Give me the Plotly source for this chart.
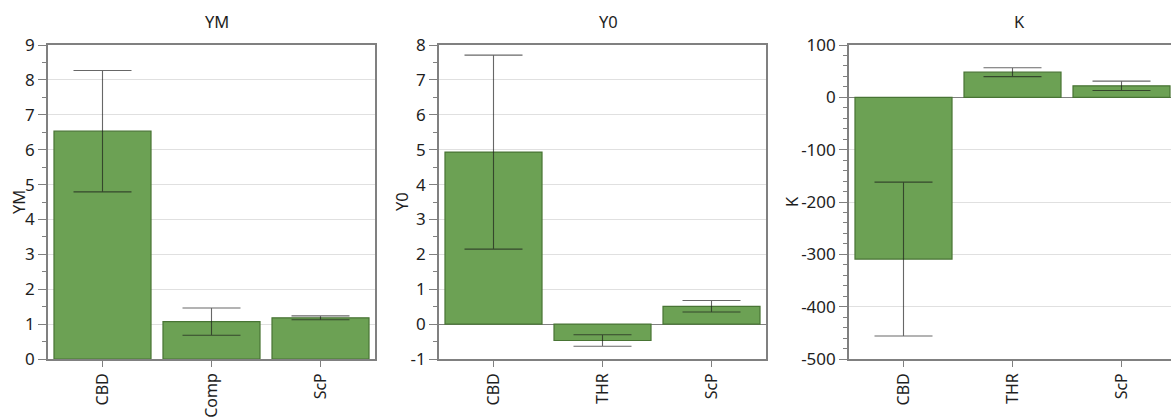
import plotly.graph_objects as go

# ---------------- data ----------------
ym_cats = ["CBD", "Comp", "ScP"]
ym_vals = [6.53, 1.07, 1.18]
ym_err = [1.74, 0.39, 0.055]
ym_ticks = [0, 1, 2, 3, 4, 5, 6, 7, 8, 9]
ym_ticklabels = ["0", "1", "2", "3", "4", "5", "6", "7", "8", "9"]

y0_cats = ["CBD", "THR", "ScP"]
y0_vals = [4.93, -0.47, 0.51]
y0_err = [2.78, 0.165, 0.165]
y0_ticks = [-1, 0, 1, 2, 3, 4, 5, 6, 7, 8]
y0_ticklabels = ["-1", "0", "1", "2", "3", "4", "5", "6", "7", "8"]

k_cats = ["CBD", "THR", "ScP"]
k_vals = [-309, 48, 22]
k_err = [147, 8.5, 9]
k_ticks = [-500, -400, -300, -200, -100, 0, 100]
k_ticklabels = ["-500", "-400", "-300", "-200", "-100", "0", "100"]

FONT = "Noto Sans"
BAR_FILL = "rgb(108,161,84)"
BAR_LINE = "rgb(72,116,52)"
ERR_COL = "rgba(25,25,25,0.66)"
AXIS_COL = "rgb(128,128,128)"
GRID_COL = "rgb(224,224,224)"
TXT = "rgb(30,30,30)"

W, H = 1171, 418
top_px, bot_px = 45, 359
ydom = [(H - bot_px) / H, (H - top_px) / H]

panels = [
    dict(cats=ym_cats, vals=ym_vals, err=ym_err, title="YM", xdom=[48 / W, 375 / W],
         yr=[0, 9], tv=ym_ticks, tt=ym_ticklabels, mdt=0.5, xr=[-0.5, 2.5],
         ytitle_x=18, title_x=217, mirror_y=True),
    dict(cats=y0_cats, vals=y0_vals, err=y0_err, title="Y0", xdom=[439 / W, 766 / W],
         yr=[-1, 8], tv=y0_ticks, tt=y0_ticklabels, mdt=0.5, xr=[-0.5, 2.5],
         ytitle_x=401, title_x=608, mirror_y=True),
    dict(cats=k_cats, vals=k_vals, err=k_err, title="K", xdom=[849 / W, 1.0],
         yr=[-500, 100], tv=k_ticks, tt=k_ticklabels, mdt=20, xr=[-0.5, 2.5 - 5 / 109],
         ytitle_x=791, title_x=1019, mirror_y=False),
]

fig = go.Figure()
annotations = []
for i, p in enumerate(panels, start=1):
    xa = "x" if i == 1 else f"x{i}"
    ya = "y" if i == 1 else f"y{i}"
    fig.add_trace(go.Bar(
        x=p["cats"], y=p["vals"], xaxis=xa, yaxis=ya,
        marker=dict(color=BAR_FILL, line=dict(color=BAR_LINE, width=1.2)),
        error_y=dict(type="data", array=p["err"], visible=True, color=ERR_COL,
                     thickness=1.1, width=29),
        showlegend=False, hoverinfo="skip",
    ))
    xkey = "xaxis" if i == 1 else f"xaxis{i}"
    ykey = "yaxis" if i == 1 else f"yaxis{i}"
    fig.update_layout(**{
        xkey: dict(domain=p["xdom"], anchor=ya, range=p["xr"], type="category",
                   automargin=False,
                   showline=True, linecolor=AXIS_COL, linewidth=1.6, mirror=True,
                   ticks="outside", ticklen=6, tickcolor=AXIS_COL, tickwidth=1.2,
                   tickangle=-90, showgrid=False, zeroline=False,
                   tickfont=dict(family=FONT, size=16, color=TXT), fixedrange=True),
        ykey: dict(domain=ydom, anchor=xa, range=p["yr"],
                   tickmode="array", tickvals=p["tv"], ticktext=p["tt"],
                   automargin=False,
                   showline=True, linecolor=AXIS_COL, linewidth=1.6,
                   mirror=p["mirror_y"],
                   ticks="outside", ticklen=8, tickcolor=AXIS_COL, tickwidth=1.2,
                   showgrid=True, gridcolor=GRID_COL, gridwidth=1,
                   zeroline=True, zerolinecolor=AXIS_COL, zerolinewidth=1.2,
                   minor=dict(tickmode="linear", tick0=0, dtick=p["mdt"], ticks="outside",
                              ticklen=4, tickcolor=AXIS_COL, tickwidth=1, showgrid=False),
                   tickfont=dict(family=FONT, size=17, color=TXT), fixedrange=True),
    })
    annotations.append(dict(text=p["title"], x=p["title_x"] / W, y=1 - 22 / H,
                            xref="paper", yref="paper", xanchor="center", yanchor="middle",
                            showarrow=False, font=dict(family=FONT, size=16.5, color=TXT)))
    annotations.append(dict(text=p["title"], x=p["ytitle_x"] / W, y=1 - 202 / H,
                            xref="paper", yref="paper", xanchor="center", yanchor="middle",
                            textangle=-90, showarrow=False,
                            font=dict(family=FONT, size=16.5, color=TXT)))

fig.update_layout(
    width=W, height=H,
    margin=dict(l=0, r=0, t=0, b=0, autoexpand=False),
    paper_bgcolor="white", plot_bgcolor="white",
    bargap=0.11,
    annotations=annotations,
    font=dict(family=FONT, color=TXT),
)

fig.write_html("out.html", config={"displayModeBar": False})
